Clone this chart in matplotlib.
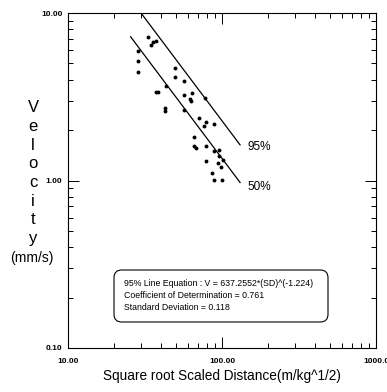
import numpy as np
import matplotlib
matplotlib.use("Agg")
import matplotlib.pyplot as plt
from matplotlib.patches import FancyBboxPatch

# scaled distance (m/kg^1/2) and peak particle velocity (mm/s)
sd = [33.2, 34.4, 35.8, 37.1, 28.6, 28.6, 28.6, 49.5, 49.5, 56.6,
      37.1, 38.6, 43.1, 42.6, 42.6, 56.6, 63.8, 62.2, 62.6, 77.6,
      56.9, 71.2, 78.7, 76.7, 89.1, 66.1, 65.5, 68.1, 78.3, 89.1,
      96.0, 95.6, 102.0, 78.3, 94.6, 98.5, 85.7, 89.1, 100.0]
vel = [7.16, 6.44, 6.75, 6.81, 5.96, 5.17, 4.46, 4.71, 4.17, 3.94,
       3.36, 3.36, 3.66, 2.72, 2.60, 3.24, 3.32, 3.05, 2.99, 3.10,
       2.64, 2.35, 2.23, 2.12, 2.17, 1.81, 1.60, 1.56, 1.61, 1.51,
       1.52, 1.41, 1.33, 1.31, 1.27, 1.21, 1.11, 1.01, 1.01]

# attenuation lines  V = K * SD^b
b = -1.224
K95 = 637.2552
K50 = 380.0
sd95 = [29.8, 131.0]
sd50 = [25.5, 131.0]

xtick_vals = [10, 100, 1000]
xtick_labels = ["10.00", "100.00", "1000.0"]
ytick_vals = [0.1, 1, 10]
ytick_labels = ["0.10", "1.00", "10.00"]

W, H = 387, 392
fig = plt.figure(figsize=(W / 100, H / 100), dpi=100)
ax = fig.add_axes([68 / W, 1 - 348 / H, (376 - 68) / W, (348 - 13) / H])

ax.plot(sd, vel, "o", color="black", markersize=2.8, markeredgewidth=0)

x95 = np.array(sd95)
x50 = np.array(sd50)
ax.plot(x95, K95 * x95 ** b, color="black", lw=0.9)
ax.plot(x50, K50 * x50 ** b, color="black", lw=0.9)
ax.text(146, 1.58, "95%", fontsize=8.5, ha="left", va="center", family="Liberation Sans")
ax.text(146, 0.915, "50%", fontsize=8.5, ha="left", va="center", family="Liberation Sans")

ax.set_xscale("log")
ax.set_yscale("log")
ax.set_xlim(10, 1000)
ax.set_ylim(0.1, 10)
ax.set_xticks(xtick_vals, xtick_labels)
ax.set_yticks(ytick_vals, ytick_labels)
ax.tick_params(which="both", direction="in", top=True, right=True, width=0.7)
ax.tick_params(which="major", length=8, labelsize=6)
ax.tick_params(which="minor", length=3.5)
ax.tick_params(axis="x", pad=7)
ax.tick_params(axis="y", pad=4)
for lab in ax.get_xticklabels() + ax.get_yticklabels():
    lab.set_fontweight("bold")
    lab.set_family("Liberation Sans")
for sp in ax.spines.values():
    sp.set_linewidth(0.8)

ax.set_xlabel("Square root Scaled Distance(m/kg^1/2)", fontsize=9.8,
              family="Liberation Sans", labelpad=3)

# stacked y label
for i, ch in enumerate("Velocity"):
    fig.text(33 / W, 1 - (108 + i * 18.6) / H, ch, fontsize=12, ha="center",
             va="center", family="Liberation Sans")
fig.text(32 / W, 1 - 258 / H, "(mm/s)", fontsize=10, ha="center", va="center",
         family="Liberation Sans")

# equation box
box = FancyBboxPatch((114 / W, 1 - 322 / H), (328 - 114) / W, (322 - 270) / H,
                     boxstyle="round,pad=0,rounding_size=0.02",
                     transform=fig.transFigure, fill=False, lw=0.8, ec="black")
fig.patches.append(box)
eq_lines = ["95% Line Equation : V = 637.2552*(SD)^(-1.224)",
            "Coefficient of Determination = 0.761",
            "Standard Deviation = 0.118"]
for i, t in enumerate(eq_lines):
    fig.text(124 / W, 1 - (284 + i * 12) / H, t, fontsize=6.3, ha="left",
             va="center", family="Liberation Sans")

fig.savefig("out.png", dpi=100)
